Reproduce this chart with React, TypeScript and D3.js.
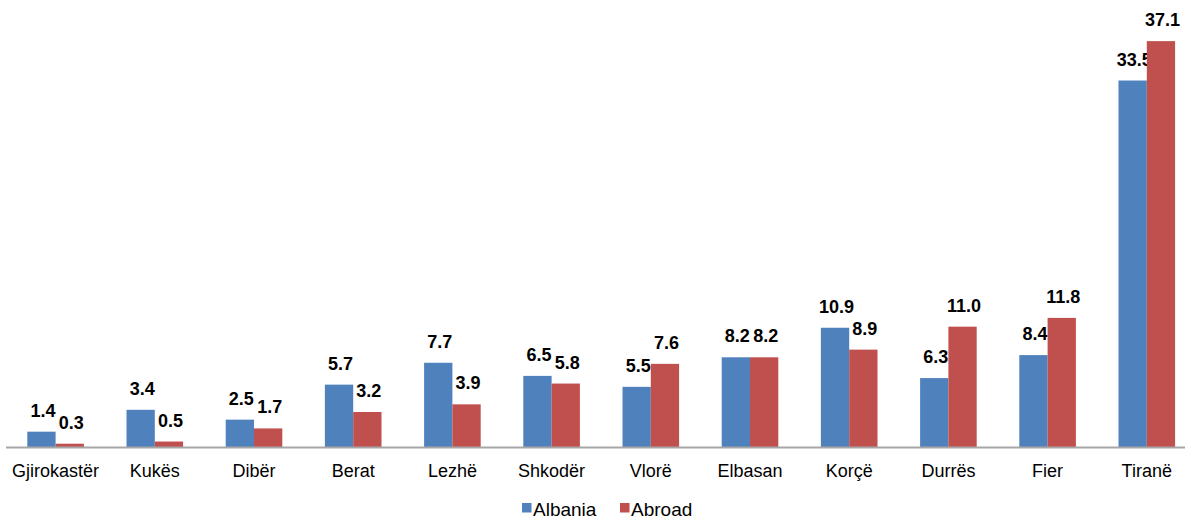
import React from "react";
import * as d3 from "d3";

const categories = ["Gjirokastër", "Kukës", "Dibër", "Berat", "Lezhë", "Shkodër", "Vlorë", "Elbasan", "Korçë", "Durrës", "Fier", "Tiranë"];
const albania = [1.4, 3.4, 2.5, 5.7, 7.7, 6.5, 5.5, 8.2, 10.9, 6.3, 8.4, 33.5];
const abroad = [0.3, 0.5, 1.7, 3.2, 3.9, 5.8, 7.6, 8.2, 8.9, 11.0, 11.8, 37.1];
const seriesNames = ["Albania", "Abroad"];
const colors = ["#4F81BD", "#C0504D"];

const W = 1185;
const H = 523;
const x0 = 6;
const step = 99.2;
const baseY = 447;

export default function App() {
  const x = d3.scaleBand<string>().domain(categories).range([x0, x0 + step * categories.length]).paddingInner(0).paddingOuter(0);
  const y = d3.scaleLinear().domain([0, 40]).range([baseY, baseY - 40 * 10.94]);
  const series = [albania, abroad];
  const barW = 28.3;
  const fmt = d3.format(".1f");
  return (
    <svg width={W} height={H} style={{ position: "absolute", left: 0, top: 0 }} fontFamily="Arial, 'Liberation Sans', sans-serif">
      <rect width={W} height={H} fill="#fff" />
      {categories.map((c, i) => {
        const cx = (x(c) as number) + x.bandwidth() / 2;
        return (
          <g key={c}>
            {series.map((s, j) => {
              const bx = cx - barW + j * barW;
              return (
                <g key={j}>
                  <rect x={bx} y={y(s[i])} width={barW} height={baseY - y(s[i])} fill={colors[j]} />
                  <text x={bx + barW / 2 + 1.5} y={y(s[i]) - 15} textAnchor="middle" fontSize={18} fontWeight="bold" fill="#000">{fmt(s[i])}</text>
                </g>
              );
            })}
            <text x={cx} y={476.5} textAnchor="middle" fontSize={18} fill="#000">{c}</text>
          </g>
        );
      })}
      <line x1={x0} x2={W} y1={baseY + 0.5} y2={baseY + 0.5} stroke="#A6A6A6" strokeWidth={2} />
      {seriesNames.map((n, j) => {
        const lx = j === 0 ? 522 : 620;
        return (
          <g key={n}>
            <rect x={lx} y={503} width={9.5} height={9.5} fill={colors[j]} />
            <text x={lx + 11} y={515.5} fontSize={19} fill="#000">{n}</text>
          </g>
        );
      })}
    </svg>
  );
}
